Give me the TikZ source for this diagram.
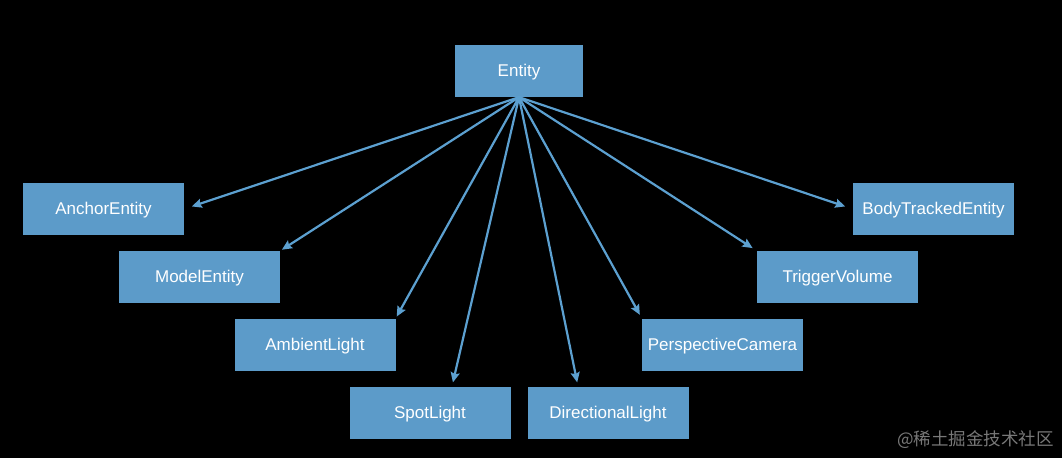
\documentclass[tikz,border=0pt]{standalone}
\usepackage{fontspec}
\setmainfont{Liberation Sans}
\newfontfamily\cjkfont{Noto Sans CJK SC}
\usetikzlibrary{arrows.meta}
\definecolor{boxblue}{RGB}{92,155,201}
\definecolor{arrowblue}{RGB}{92,160,208}
\definecolor{wmgray}{RGB}{120,120,120}
\tikzset{
  cls/.style={fill=boxblue, draw=none, minimum width=161pt, minimum height=52pt,
    inner sep=0pt, text=white, text height=12.5pt, text depth=1.5pt,
    font=\fontsize{17}{20}\selectfont},
  link/.style={draw=arrowblue, line width=2.2pt,
    -{Stealth[length=10pt,width=9pt,inset=1.5pt]}},
}
\begin{document}
\begin{tikzpicture}[x=1pt,y=-1pt]
\fill[black] (0,0) rectangle (1062,458);
\useasboundingbox (0,0) rectangle (1062,458);

\node[cls, minimum width=128pt] (entity) at (519,71) {Entity};
\node[cls] (anchor) at (103.5,209) {AnchorEntity};
\node[cls] (model) at (199.5,277) {ModelEntity};
\node[cls] (ambient) at (315,344.5) {AmbientLight};
\node[cls] (spot) at (430,412.5) {SpotLight};
\node[cls] (directional) at (608,412.5) {DirectionalLight};
\node[cls] (camera) at (722.5,344.5) {PerspectiveCamera};
\node[cls] (trigger) at (837.5,277) {TriggerVolume};
\node[cls] (body) at (933.5,209) {BodyTrackedEntity};

\draw[link, shorten >=8pt] (entity.south) -- (anchor.east);
\draw[link, shorten >=2pt] (entity.south) -- (model.north east);
\draw[link, shorten >=2pt] (entity.south) -- (ambient.north east);
\draw[link, shorten >=4pt] (entity.south) -- ([xshift=22pt]spot.north);
\draw[link, shorten >=4pt] (entity.south) -- ([xshift=-30pt]directional.north);
\draw[link, shorten >=4pt] (entity.south) -- (camera.north west);
\draw[link, shorten >=5pt] (entity.south) -- (trigger.north west);
\draw[link, shorten >=8pt] (entity.south) -- (body.west);

\node[text=wmgray, font=\cjkfont\fontsize{17.5}{20}\selectfont, anchor=east, inner sep=0pt] (wm) at (1054,440) {@稀土掘金技术社区};
\end{tikzpicture}
\end{document}
